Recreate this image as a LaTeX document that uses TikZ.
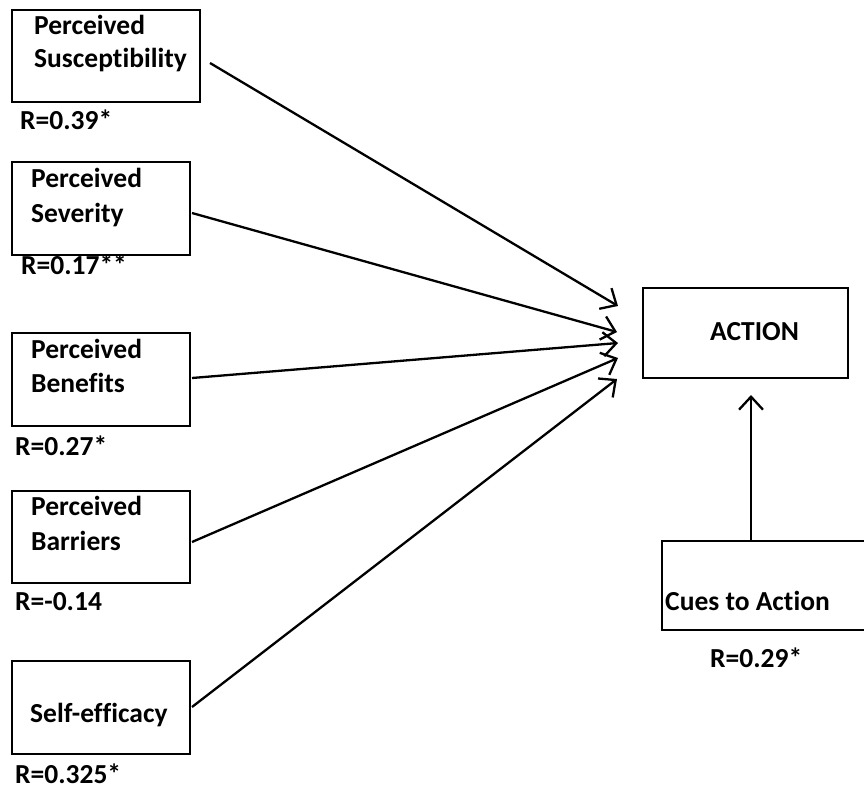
\documentclass[tikz,border=0pt]{standalone}
\usepackage{fontspec}
\setmainfont[Ligatures=NoCommon]{Carlito}
\usetikzlibrary{arrows.meta}
\begin{document}
\begin{tikzpicture}[x=1pt,y=-1pt,
  box/.style={draw=black, line width=2.6pt, rectangle, inner sep=0pt},
  lbl/.style={anchor=base west, inner sep=0pt, font=\fontsize{27.5}{33}\selectfont\bfseries},
  conn/.style={line width=2.3pt, -{Straight Barb[length=13pt,width=24pt]}}]
\useasboundingbox (0,0) rectangle (864,789);
% boxes
\node[box, minimum width=188pt, minimum height=92pt] (b1) at (106,56) {};
\node[box, minimum width=178pt, minimum height=93pt] (b2) at (101,208.5) {};
\node[box, minimum width=178pt, minimum height=93pt] (b3) at (101,379.5) {};
\node[box, minimum width=178pt, minimum height=92pt] (b4) at (101,537) {};
\node[box, minimum width=178pt, minimum height=93pt] (b5) at (101,707.5) {};
\node[box, minimum width=205pt, minimum height=90pt] (act) at (745.5,333) {};
\node[box, minimum width=210pt, minimum height=89pt] (cue) at (767,585.5) {};
% texts
\node[lbl] (t1a) at (34,35) {Perceived};
\node[lbl] (t1b) at (34,68) {Susceptibility};
\node[lbl] (r1) at (20,130) {R=0.39*};
\node[lbl] (t2a) at (31,187) {Perceived};
\node[lbl] (t2b) at (31,222) {Severity};
\node[lbl] (r2) at (21,274) {R=0.17**};
\node[lbl] (t3a) at (31,358) {Perceived};
\node[lbl] (t3b) at (31,392) {Benefits};
\node[lbl] (r3) at (15,455) {R=0.27*};
\node[lbl] (t4a) at (31,515) {Perceived};
\node[lbl] (t4b) at (31,550) {Barriers};
\node[lbl] (r4) at (15,610) {R=-0.14};
\node[lbl] (t5) at (30,722) {Self-efficacy};
\node[lbl] (r5) at (15,783) {R=0.325*};
\node[lbl] (ta) at (710,340) {ACTION};
\node[lbl] (tc) at (665,610) {Cues to Action};
\node[lbl] (rc) at (710,667) {R=0.29*};
% connector endpoints
\coordinate (s1) at (210,63);
\coordinate (e1) at (618,306);
\coordinate (s2) at (192,213);
\coordinate (e2) at (617,332);
\coordinate (s3) at (192,378);
\coordinate (e3) at (618,343);
\coordinate (s4) at (192,542);
\coordinate (e4) at (618,358);
\coordinate (s5) at (192,707);
\coordinate (e5) at (617,379);
\coordinate (sc) at (751,541);
\coordinate (ec) at (751,395);
\draw[conn] (s1) -- (e1);
\draw[conn] (s2) -- (e2);
\draw[conn] (s3) -- (e3);
\draw[conn] (s4) -- (e4);
\draw[conn] (s5) -- (e5);
\draw[conn] (sc) -- (ec);
\end{tikzpicture}
\end{document}
